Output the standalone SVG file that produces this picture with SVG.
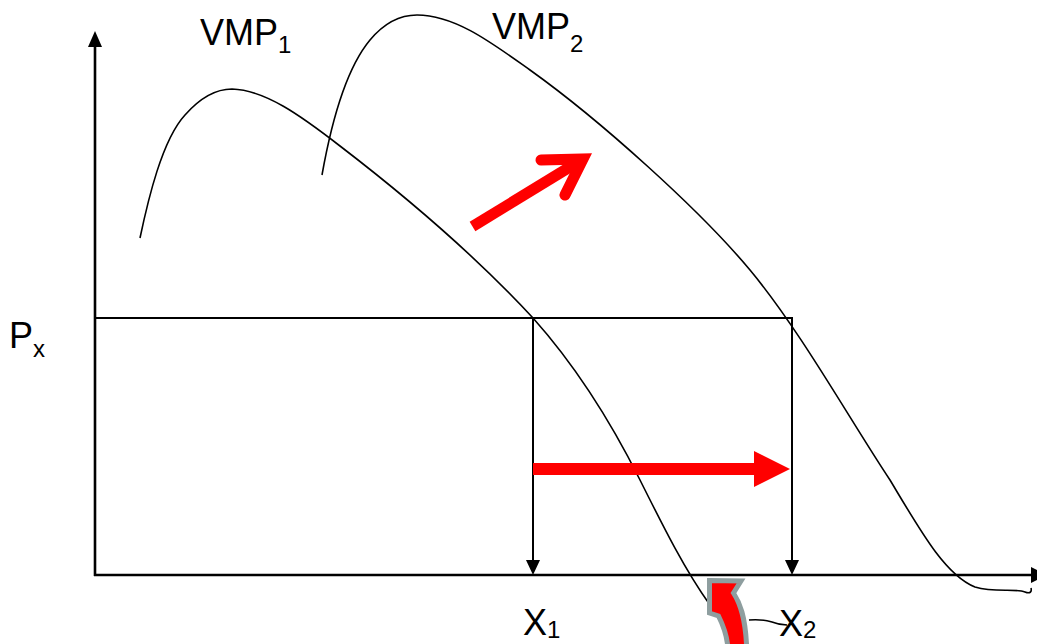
<svg xmlns="http://www.w3.org/2000/svg" width="1037" height="644" viewBox="0 0 1037 644">
<style>
.lbl{font-family:"Liberation Sans",Arial,sans-serif;font-size:36px;fill:#000}
.sub{font-family:"Liberation Sans",Arial,sans-serif;font-size:24px;fill:#000}
.crv{fill:none;stroke:#000;stroke-width:1.6}
.ln{fill:none;stroke:#000;stroke-width:2}
.ax{fill:none;stroke:#000;stroke-width:2.6}
.red{fill:#FF0000}
</style>
<rect width="1037" height="644" fill="#fff"/>
<g id="curves">
<path id="vmp1-curve" class="crv" d="M140,238 C148,200 162,140 185,115 C200,98 215,89 232,89 C265,90 300,115 340,146 C400,192 470,250 533,318 C575,365 610,420 640,480 C665,530 685,570 710,605"/>
<path id="vmp2-curve" class="crv" d="M322,175 C330,130 345,70 370,40 C385,22 400,15 417,15 C455,15 492,43 530,70 C600,120 700,210 750,270 C800,330 850,420 890,480 C920,530 945,575 975,587 C995,593 1015,588 1025,592 C1030,594 1032,592 1031,588"/>
</g>
<g id="connectors">
<line class="ax" x1="95" y1="576" x2="95" y2="45"/>
<polygon points="95,31 88,47 102,47"/>
<line class="ax" x1="94" y1="575" x2="1032" y2="575"/>
<polygon points="1047,575 1031,567 1031,583"/>
<line class="ln" x1="95" y1="318" x2="792" y2="318"/>
<line class="ln" x1="533" y1="317" x2="533" y2="562"/>
<polygon points="533,575 526,560 540,560"/>
<line class="ln" x1="792" y1="317" x2="792" y2="562"/>
<polygon points="792,575 785,560 799,560"/>
</g>
<g id="shift-arrow-diag">
<line x1="472.5" y1="226.5" x2="583" y2="159" stroke="#FF0000" stroke-width="11"/>
<polyline points="541,160 583,159 565,195" fill="none" stroke="#FF0000" stroke-width="11" stroke-linecap="round" stroke-linejoin="miter"/>
</g>
<g id="shift-arrow-horiz">
<rect class="red" x="533" y="463" width="225" height="12"/>
<polygon class="red" points="754,451 790,469 754,487"/>
</g>
<g id="curved-arrow">
<path d="M709.5,580.5 L741,581 L733.5,593 C740,603 745,616 746.5,644 L747,652 L728,652 L727.5,644 C726,632 722.5,624 718.5,616 L709.5,613 Z" fill="#FF0000" stroke="#8E9E9F" stroke-width="5" stroke-linejoin="miter"/>
<path d="M749,620 C758,619 765,620 772,622 C777,624 781,625 787,625" fill="none" stroke="#000" stroke-width="1.5"/>
</g>
<g id="labels">
<g id="label-vmp1"><text class="lbl" x="200" y="45">VMP</text><text class="sub" x="278" y="53">1</text></g>
<g id="label-vmp2"><text class="lbl" x="492" y="39">VMP</text><text class="sub" x="570" y="52">2</text></g>
<g id="label-px"><text class="lbl" x="9" y="348">P</text><text class="sub" x="33" y="357">x</text></g>
<g id="label-x1"><text class="lbl" x="523" y="635">X</text><text class="sub" x="547" y="638">1</text></g>
<g id="label-x2"><text class="lbl" x="779" y="636">X</text><text class="sub" x="803" y="638">2</text></g>
</g>
</svg>
